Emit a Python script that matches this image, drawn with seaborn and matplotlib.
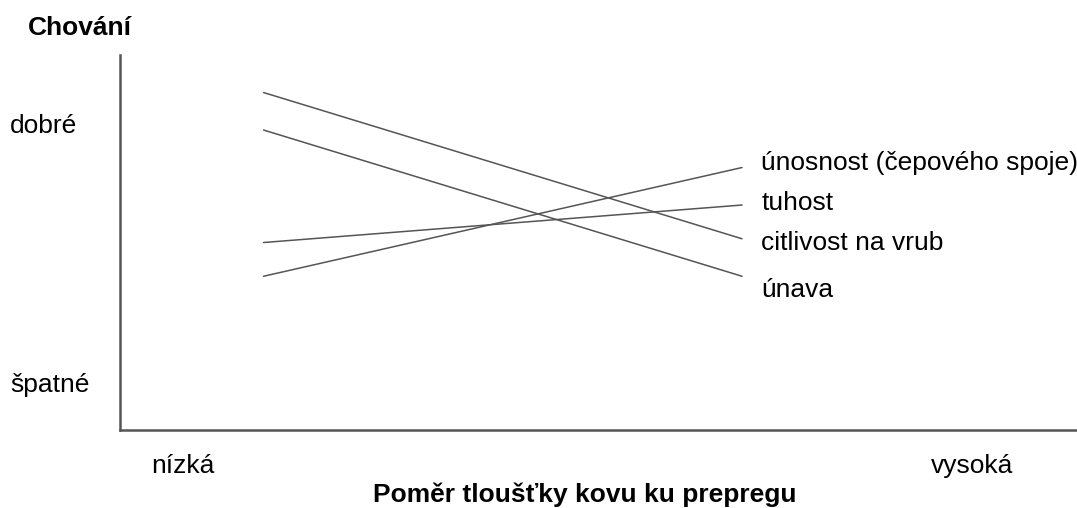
import pandas as pd
import matplotlib.pyplot as plt
import seaborn as sns

# properties and their relative behaviour at low / high metal-to-prepreg ratio
props = ['citlivost na vrub', 'únava', 'tuhost', 'únosnost (čepového spoje)']
behaviour_low = [9.0, 8.0, 5.0, 4.1]
behaviour_high = [5.1, 4.1, 6.0, 7.0]
ratio_low = 1.5
ratio_high = 6.5

x_ticks = [0.66, 8.9]
x_ticklabels = ['nízká', 'vysoká']
y_ticks = [8.1, 1.2]
y_ticklabels = ['dobré', 'špatné']

rows = []
for p, lo, hi in zip(props, behaviour_low, behaviour_high):
    rows.append({'vlastnost': p, 'pomer': ratio_low, 'chovani': lo})
    rows.append({'vlastnost': p, 'pomer': ratio_high, 'chovani': hi})
df = pd.DataFrame(rows)

sns.set_style('white')
plt.rcParams['font.family'] = ['Liberation Sans', 'DejaVu Sans']
plt.rcParams['text.color'] = 'black'
plt.rcParams['xtick.color'] = 'black'
plt.rcParams['ytick.color'] = 'black'
plt.rcParams['axes.labelcolor'] = 'black'

fig = plt.figure(figsize=(10.77, 5.08), dpi=100)
ax = fig.add_axes([0.1114, 0.1535, 0.8886, 0.7382])

sns.lineplot(data=df, x='pomer', y='chovani', hue='vlastnost',
             palette=['#555555'] * len(props), linewidth=1.1,
             legend=False, ax=ax)

ax.set_xlim(0, 10)
ax.set_ylim(0, 10)
sns.despine(ax=ax)
for s in ['left', 'bottom']:
    ax.spines[s].set_color('#555555')
    ax.spines[s].set_linewidth(1.8)

ax.set_xticks(x_ticks)
ax.set_xticklabels(x_ticklabels, fontsize=19)
ax.tick_params(axis='x', length=0, pad=17)

# y "ticks" are left aligned against the figure edge in the original
ax.set_yticks([])
for t, lab in zip(y_ticks, y_ticklabels):
    ax.text(-0.115, t, lab, fontsize=19, ha='left', va='center',
            transform=ax.get_yaxis_transform(), clip_on=False)

ax.set_xlabel('Poměr tloušťky kovu ku prepregu', fontsize=19, fontweight='bold')
ax.xaxis.set_label_coords(0.486, -0.14)
ax.set_ylabel('Chování', fontsize=19, fontweight='bold', rotation=0)
ax.yaxis.set_label_coords(-0.042, 1.04)

# labels at the right end of each line
label_y = [4.99, 3.73, 6.05, 7.12]
for p, ly in zip(props, label_y):
    ax.text(ratio_high + 0.2, ly, p, fontsize=19, va='center', ha='left',
            clip_on=False)

fig.savefig('out.png', dpi=100)
